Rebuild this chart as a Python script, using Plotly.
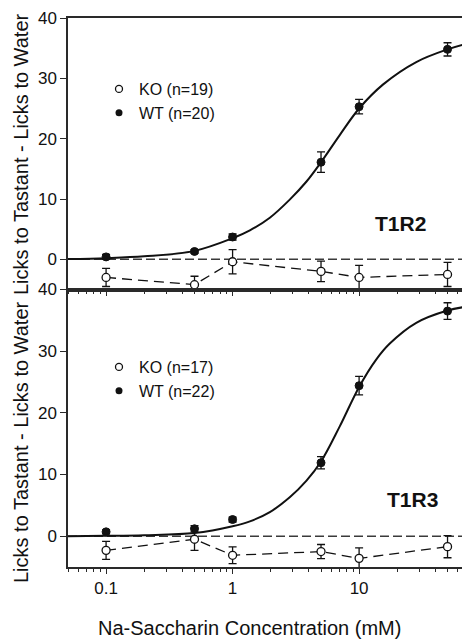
import plotly.graph_objects as go
from plotly.subplots import make_subplots

# ---- data ----
conc = [0.1, 0.5, 1, 5, 10, 50]

t1r2_wt = [0.4, 1.3, 3.7, 16.1, 25.3, 34.8]
t1r2_wt_err = [0.4, 0.3, 0.5, 1.7, 1.2, 1.1]
t1r2_ko = [-3.0, -4.2, -0.4, -2.0, -3.0, -2.5]
t1r2_ko_err = [1.5, 1.4, 2.0, 1.7, 2.0, 2.0]

t1r3_wt = [0.7, 1.2, 2.7, 11.9, 24.4, 36.5]
t1r3_wt_err = [0.3, 0.5, 0.4, 1.0, 1.5, 1.35]
t1r3_ko = [-2.3, -0.5, -3.1, -2.5, -3.6, -1.7]
t1r3_ko_err = [1.45, 1.8, 1.35, 1.15, 1.7, 1.8]

# fitted curves
t1r2_fit_x = [0.05, 0.1, 0.2, 0.5, 1, 1.37, 1.97, 2.83, 3.84, 5, 7.03, 10, 15.5, 28.3, 50, 70]
t1r2_fit = [0.05, 0.2, 0.5, 1.4, 3.5, 4.8, 6.9, 9.9, 12.9, 16.1, 20.6, 25.0, 29.0, 32.7, 34.8, 35.7]
t1r3_fit_x = [0.05, 0.1, 0.2, 0.5, 1, 1.37, 1.97, 2.83, 3.84, 5, 7.03, 10, 13.6, 17.4, 28.3, 50, 70]
t1r3_fit = [0.0, 0.05, 0.15, 0.5, 1.6, 2.4, 3.9, 6.3, 9.0, 12.1, 17.8, 24.2, 28.6, 31.2, 34.6, 36.6, 37.2]

panels = [
    dict(name="T1R2", wt=t1r2_wt, wt_err=t1r2_wt_err, ko=t1r2_ko, ko_err=t1r2_ko_err,
         fit_x=t1r2_fit_x, fit=t1r2_fit, ko_label="KO (n=19)", wt_label="WT (n=20)"),
    dict(name="T1R3", wt=t1r3_wt, wt_err=t1r3_wt_err, ko=t1r3_ko, ko_err=t1r3_ko_err,
         fit_x=t1r3_fit_x, fit=t1r3_fit, ko_label="KO (n=17)", wt_label="WT (n=22)"),
]

x_title = "Na-Saccharin Concentration (mM)"
y_title = "Licks to Tastant - Licks to Water"

INK = "#111111"
AX = "#2a2a2a"
FONT = "Arial, Liberation Sans, sans-serif"

# ---- layout geometry (figure pixels; page adds an 8px body margin) ----
W, H = 462, 634
ML, MR, MT, MB = 60, 4, 10, 75
PW, PH = W - ML - MR, H - MT - MB
OFF = 8


def xp(sx):
    return (sx - OFF - ML) / PW


def yp(sy):
    return (H - MB - (sy - OFF)) / PH


split = yp(289.5)

fig = make_subplots(rows=2, cols=1, shared_xaxes=False, vertical_spacing=0.0)

for i, p in enumerate(panels, start=1):
    legend_name = "legend" if i == 1 else "legend2"
    fig.add_trace(go.Scatter(x=p["fit_x"], y=p["fit"], mode="lines",
                             line=dict(color=INK, width=2, shape="spline", smoothing=1.0),
                             showlegend=False, hoverinfo="skip"), row=i, col=1)
    fig.add_trace(go.Scatter(x=conc, y=p["ko"], mode="lines+markers",
                             line=dict(color=INK, width=1.3, dash="10px,6px"),
                             marker=dict(symbol="circle", size=8, color="white", line=dict(color=INK, width=1.3)),
                             error_y=dict(type="data", array=p["ko_err"], color=INK, thickness=1.3, width=4),
                             showlegend=False), row=i, col=1)
    fig.add_trace(go.Scatter(x=conc, y=p["wt"], mode="markers",
                             marker=dict(symbol="circle", size=8, color=INK, line=dict(color=INK, width=1)),
                             error_y=dict(type="data", array=p["wt_err"], color=INK, thickness=1.3, width=4),
                             showlegend=False), row=i, col=1)
    fig.add_trace(go.Scatter(x=[None], y=[None], mode="markers", name=p["ko_label"],
                             marker=dict(symbol="circle", size=7, color="white", line=dict(color=INK, width=1.3)),
                             legend=legend_name), row=i, col=1)
    fig.add_trace(go.Scatter(x=[None], y=[None], mode="markers", name=p["wt_label"],
                             marker=dict(symbol="circle", size=7, color=INK),
                             legend=legend_name), row=i, col=1)

fig.update_layout(
    width=W, height=H,
    margin=dict(l=ML, r=MR, t=MT, b=MB, autoexpand=False),
    plot_bgcolor="white", paper_bgcolor="white",
    font=dict(family=FONT, color=INK, size=17),
    xaxis=dict(domain=[0, 1]), xaxis2=dict(domain=[0, 1]),
    yaxis=dict(domain=[split, 1]), yaxis2=dict(domain=[0, split]),
    legend=dict(x=xp(99), y=yp(72), xref="paper", yref="paper", xanchor="left", yanchor="top",
                bgcolor="rgba(0,0,0,0)", font=dict(size=16), tracegroupgap=0, itemwidth=30),
    legend2=dict(x=xp(99), y=yp(350), xref="paper", yref="paper", xanchor="left", yanchor="top",
                 bgcolor="rgba(0,0,0,0)", font=dict(size=16), tracegroupgap=0, itemwidth=30),
    showlegend=True,
)

for ax in ["xaxis", "xaxis2"]:
    fig.update_layout({ax: dict(
        type="log", range=[-1.301, 1.845], dtick=1, automargin=False,
        showline=True, mirror=True, linecolor=AX, linewidth=1.5,
        ticks="outside", ticklen=5, tickwidth=1.2, tickcolor=AX,
        showgrid=False, zeroline=False,
        minor=dict(ticks="outside", ticklen=3, tickwidth=1, tickcolor=AX, dtick="D1", showgrid=False),
        tickfont=dict(size=17), ticklabelstandoff=0,
    )})
fig.update_layout(xaxis=dict(showticklabels=False))

for ax in ["yaxis", "yaxis2"]:
    fig.update_layout({ax: dict(
        range=[-5, 40], tickvals=[0, 10, 20, 30, 40], automargin=False,
        showline=True, mirror=True, linecolor=AX, linewidth=1.5,
        ticks="outside", ticklen=6, tickwidth=1.2, tickcolor=AX,
        showgrid=False, zeroline=False, tickfont=dict(size=17),
        ticklabeloverflow="allow",
    )})

# zero reference lines
for yref, xref in [("y", "x domain"), ("y2", "x2 domain")]:
    fig.add_shape(type="line", xref=xref, yref=yref, x0=0, x1=1, y0=0, y1=0,
                  line=dict(color="#3a3a3a", width=1.5, dash="9px,4px"), layer="below")

# panel labels
fig.add_annotation(text="<b>T1R2</b>", x=xp(400), y=yp(223), xref="paper", yref="paper",
                   xanchor="center", yanchor="middle", showarrow=False, font=dict(size=21, color=INK))
fig.add_annotation(text="<b>T1R3</b>", x=xp(412), y=yp(500), xref="paper", yref="paper",
                   xanchor="center", yanchor="middle", showarrow=False, font=dict(size=21, color=INK))

# axis titles
fig.add_annotation(text=y_title, textangle=-90, x=xp(21), y=yp(154), xref="paper", yref="paper",
                   xanchor="center", yanchor="middle", showarrow=False, font=dict(size=20, color=INK))
fig.add_annotation(text=y_title, textangle=-90, x=xp(21), y=yp(442), xref="paper", yref="paper",
                   xanchor="center", yanchor="middle", showarrow=False, font=dict(size=20, color=INK))
fig.add_annotation(text=x_title, x=xp(249.5), y=yp(627.5), xref="paper", yref="paper",
                   xanchor="center", yanchor="middle", showarrow=False, font=dict(size=20, color=INK))

fig.write_html("out.html")
